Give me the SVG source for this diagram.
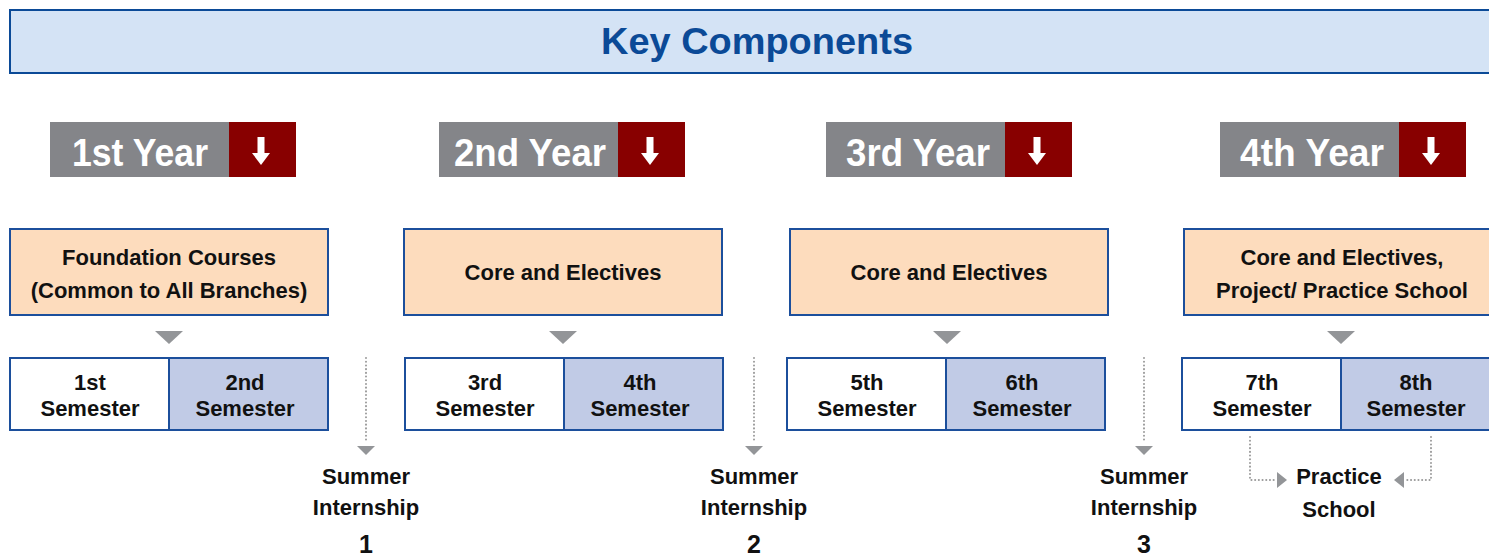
<svg xmlns="http://www.w3.org/2000/svg" width="1489" height="557" viewBox="0 0 1489 557">
<style>
  text { font-family: "Liberation Sans", Arial, sans-serif; font-weight: bold; text-anchor: middle; }
  .title { fill: #0b4a97; font-size: 36px; }
  .year { fill: #ffffff; font-size: 39px; }
  .lbl { fill: #111111; font-size: 22px; }
  .num { fill: #111111; font-size: 25px; }
  .grey { fill: #848589; }
  .red { fill: #880000; }
  .course { fill: #fddcbd; stroke: #1c4f9c; stroke-width: 2; }
  .semA { fill: #ffffff; stroke: #1c4f9c; stroke-width: 2; }
  .semB { fill: #c1cbe6; stroke: #1c4f9c; stroke-width: 2; }
  .tri { fill: #939598; }
  .dot { fill: none; stroke: #9a9a9a; stroke-width: 2; stroke-dasharray: 0.1 3.6; stroke-linecap: round; }
</style>
<defs>
  <g id="downArrow">
    <rect x="-3.5" y="0" width="7" height="17" fill="#ffffff"/>
    <polygon points="-9,16 9,16 0,28" fill="#ffffff"/>
  </g>
</defs>

<g id="header">
  <rect x="10" y="10" width="1500" height="63" fill="#d4e3f5" stroke="#0b4a97" stroke-width="2"/>
  <text class="title" x="757" y="54" textLength="312" lengthAdjust="spacingAndGlyphs">Key Components</text>
</g>

<!-- Year labels -->
<g id="year1">
  <rect class="grey" x="50" y="122" width="179" height="55"/>
  <rect class="red" x="229" y="122" width="67" height="55"/>
  <text class="year" x="140" y="166" textLength="136" lengthAdjust="spacingAndGlyphs">1st Year</text>
  <use href="#downArrow" x="261" y="137"/>
</g>
<g id="year2">
  <rect class="grey" x="439" y="122" width="179" height="55"/>
  <rect class="red" x="618" y="122" width="67" height="55"/>
  <text class="year" x="530" y="166" textLength="152" lengthAdjust="spacingAndGlyphs">2nd Year</text>
  <use href="#downArrow" x="650" y="137"/>
</g>
<g id="year3">
  <rect class="grey" x="826" y="122" width="179" height="55"/>
  <rect class="red" x="1005" y="122" width="67" height="55"/>
  <text class="year" x="918" y="166" textLength="144" lengthAdjust="spacingAndGlyphs">3rd Year</text>
  <use href="#downArrow" x="1037" y="137"/>
</g>
<g id="year4">
  <rect class="grey" x="1220" y="122" width="179" height="55"/>
  <rect class="red" x="1399" y="122" width="67" height="55"/>
  <text class="year" x="1312" y="166" textLength="144" lengthAdjust="spacingAndGlyphs">4th Year</text>
  <use href="#downArrow" x="1431" y="137"/>
</g>

<!-- Course boxes -->
<g id="course1">
  <rect class="course" x="10" y="229" width="318" height="86"/>
  <text class="lbl" x="169" y="265">Foundation Courses</text>
  <text class="lbl" x="169" y="298">(Common to All Branches)</text>
</g>
<g id="course2">
  <rect class="course" x="404" y="229" width="318" height="86"/>
  <text class="lbl" x="563" y="280">Core and Electives</text>
</g>
<g id="course3">
  <rect class="course" x="790" y="229" width="318" height="86"/>
  <text class="lbl" x="949" y="280">Core and Electives</text>
</g>
<g id="course4">
  <rect class="course" x="1184" y="229" width="320" height="86"/>
  <text class="lbl" x="1342" y="265">Core and Electives,</text>
  <text class="lbl" x="1342" y="298">Project/ Practice School</text>
</g>

<!-- Semesters -->
<g id="sem1">
  <rect class="semA" x="10" y="358" width="159" height="72"/>
  <text class="lbl" x="90" y="390">1st</text>
  <text class="lbl" x="90" y="416">Semester</text>
</g>
<g id="sem2">
  <rect class="semB" x="169" y="358" width="159" height="72"/>
  <text class="lbl" x="245" y="390">2nd</text>
  <text class="lbl" x="245" y="416">Semester</text>
</g>
<g id="sem3">
  <rect class="semA" x="405" y="358" width="159" height="72"/>
  <text class="lbl" x="485" y="390">3rd</text>
  <text class="lbl" x="485" y="416">Semester</text>
</g>
<g id="sem4">
  <rect class="semB" x="564" y="358" width="159" height="72"/>
  <text class="lbl" x="640" y="390">4th</text>
  <text class="lbl" x="640" y="416">Semester</text>
</g>
<g id="sem5">
  <rect class="semA" x="787" y="358" width="159" height="72"/>
  <text class="lbl" x="867" y="390">5th</text>
  <text class="lbl" x="867" y="416">Semester</text>
</g>
<g id="sem6">
  <rect class="semB" x="946" y="358" width="159" height="72"/>
  <text class="lbl" x="1022" y="390">6th</text>
  <text class="lbl" x="1022" y="416">Semester</text>
</g>
<g id="sem7">
  <rect class="semA" x="1182" y="358" width="159" height="72"/>
  <text class="lbl" x="1262" y="390">7th</text>
  <text class="lbl" x="1262" y="416">Semester</text>
</g>
<g id="sem8">
  <rect class="semB" x="1341" y="358" width="165" height="72"/>
  <text class="lbl" x="1416" y="390">8th</text>
  <text class="lbl" x="1416" y="416">Semester</text>
</g>

<!-- Summer internships & practice school -->
<g id="summer1">
  <text class="lbl" x="366" y="484">Summer</text>
  <text class="lbl" x="366" y="515">Internship</text>
  <text class="num" x="366" y="553">1</text>
</g>
<g id="summer2">
  <text class="lbl" x="754" y="484">Summer</text>
  <text class="lbl" x="754" y="515">Internship</text>
  <text class="num" x="754" y="553">2</text>
</g>
<g id="summer3">
  <text class="lbl" x="1144" y="484">Summer</text>
  <text class="lbl" x="1144" y="515">Internship</text>
  <text class="num" x="1144" y="553">3</text>
</g>
<g id="practice">
  <text class="lbl" x="1339" y="484">Practice</text>
  <text class="lbl" x="1339" y="517">School</text>
</g>

<!-- Connectors -->
<g id="connectors">
  <polygon class="tri" points="155,331 183,331 169,344"/>
  <polygon class="tri" points="549,331 577,331 563,344"/>
  <polygon class="tri" points="933,331 961,331 947,344"/>
  <polygon class="tri" points="1327,331 1355,331 1341,344"/>

  <line class="dot" x1="366" y1="358" x2="366" y2="443"/>
  <polygon class="tri" points="357,446 375,446 366,455"/>
  <line class="dot" x1="754" y1="358" x2="754" y2="443"/>
  <polygon class="tri" points="745,446 763,446 754,455"/>
  <line class="dot" x1="1144" y1="358" x2="1144" y2="443"/>
  <polygon class="tri" points="1135,446 1153,446 1144,455"/>

  <polyline class="dot" points="1250,437 1250,480 1276,480"/>
  <polygon class="tri" points="1277,472 1287,480 1277,488"/>
  <polyline class="dot" points="1431,437 1431,480 1405,480"/>
  <polygon class="tri" points="1404,472 1394,480 1404,488"/>
</g>
</svg>
